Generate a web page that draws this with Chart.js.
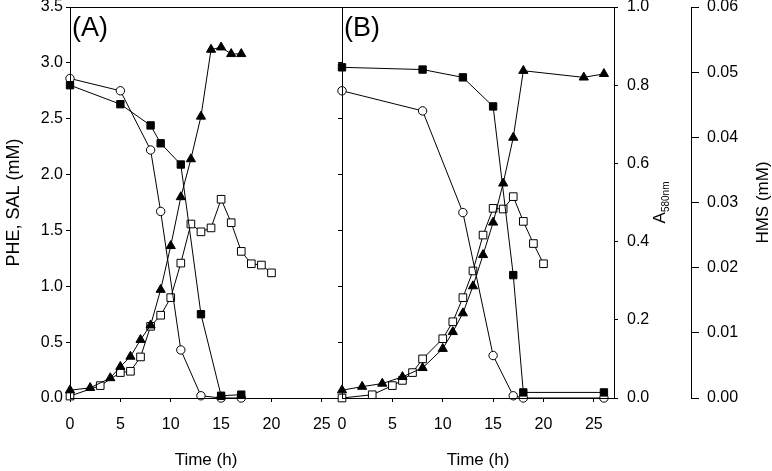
<!DOCTYPE html>
<html>
<head>
<meta charset="utf-8">
<script src="https://cdn.jsdelivr.net/npm/chart.js@4"></script>
<style>
  html, body { margin: 0; padding: 0; background: #fff; }
  #wrap { position: relative; width: 772px; height: 471px; overflow: hidden; }
  canvas { position: absolute; top: 0; }
  #chartA { left: 0; }
  #chartB { left: 330px; }
</style>
</head>
<body>
<div id="wrap">
  <canvas id="chartA" width="345" height="471"></canvas>
  <canvas id="chartB" width="442" height="471"></canvas>
</div>
<script>
// --- DATA ---
const timeTicks = [0, 5, 10, 15, 20, 25];
const concTicks = [0, 0.5, 1.0, 1.5, 2.0, 2.5, 3.0, 3.5];
const absTicks = [0, 0.2, 0.4, 0.6, 0.8, 1.0];
const hmsTicks = [0, 0.01, 0.02, 0.03, 0.04, 0.05, 0.06];

// panel A
const timeA_pheSal = [0, 5, 8, 9, 11, 13, 15, 17];
const pheA = [2.80, 2.63, 2.44, 2.28, 2.09, 0.75, 0.02, 0.03];
const salA = [2.86, 2.75, 2.22, 1.67, 0.43, 0.02, 0.0, 0.0];
const timeA_abs = [0, 2, 4, 5, 6, 7, 8, 9, 10, 11, 12, 13, 14, 15, 16, 17];
const absA = [0.020, 0.026, 0.051, 0.080, 0.106, 0.149, 0.186, 0.277, 0.389, 0.514, 0.611, 0.720, 0.891, 0.897, 0.880, 0.880];
const timeA_hms = [0, 3, 5, 6, 7, 8, 9, 10, 11, 12, 13, 14, 15, 16, 17, 18, 19, 20];
const hmsA = [0.0003, 0.0019, 0.0039, 0.0041, 0.0063, 0.0110, 0.0127, 0.0154, 0.0207, 0.0267, 0.0255, 0.0261, 0.0305, 0.0269, 0.0225, 0.0206, 0.0204, 0.0192];

// panel B
const timeB_pheSal = [0, 8, 12, 15, 17, 18, 26];
const pheB = [2.96, 2.94, 2.87, 2.61, 1.10, 0.05, 0.05];
const salB = [2.75, 2.57, 1.66, 0.38, 0.02, 0.0, 0.0];
const timeB_abs = [0, 2, 4, 6, 8, 10, 11, 12, 13, 14, 15, 16, 17, 18, 24, 26];
const absB = [0.020, 0.029, 0.037, 0.054, 0.077, 0.126, 0.169, 0.217, 0.286, 0.366, 0.449, 0.549, 0.666, 0.837, 0.820, 0.829];
const timeB_hms = [0, 3, 5, 6, 7, 8, 10, 11, 12, 13, 14, 15, 16, 17, 18, 19, 20];
const hmsB = [0.0, 0.0005, 0.0019, 0.0027, 0.0039, 0.0060, 0.0091, 0.0117, 0.0154, 0.0195, 0.0250, 0.0291, 0.0290, 0.0309, 0.0271, 0.0237, 0.0206];

// --- HELPERS ---
const FONT = "'Liberation Sans', Arial, sans-serif";
const pts = (xs, ys) => xs.map((x, i) => ({ x: x, y: ys[i] }));
const setTicks = list => s => { s.ticks = list.map(v => ({ value: v })); };

function series(data, axis, style, fill, radius) {
    return {
        data: data, yAxisID: axis, showLine: true, clip: false,
        borderColor: '#000', borderWidth: 1, tension: 0,
        pointStyle: style, pointRadius: radius, pointHoverRadius: radius,
        pointBackgroundColor: fill, pointBorderColor: '#000', pointBorderWidth: 1
    };
}

function panelDatasets(tPS, phe, sal, tAbs, abs, tHms, hms) {
    return [
        series(pts(tPS, phe), 'y', 'rect', '#000', 5.2),
        series(pts(tPS, sal), 'y', 'circle', '#fff', 4.2),
        series(pts(tAbs, abs), 'yA', 'triangle', '#000', 5.3),
        series(pts(tHms, hms), 'yH', 'rect', '#fff', 5.4)
    ];
}

function xScale() {
    return {
        type: 'linear', min: 0, max: 27, position: 'bottom',
        afterBuildTicks: setTicks(timeTicks),
        afterFit: s => { s.height = 73; s.paddingLeft = 0; s.paddingRight = 0; },
        ticks: { font: { family: FONT, size: 16 }, color: '#000', padding: 13, maxRotation: 0, callback: v => String(v) },
        grid: { drawOnChartArea: false, tickLength: 4, color: '#000' },
        border: { color: '#000', width: 1 },
        title: { display: true, text: 'Time (h)', font: { family: FONT, size: 17 }, color: '#000', padding: 0 }
    };
}

// chart-area frame + panel letters
const framePlugin = {
    id: 'frame',
    afterDraw(chart, args, opts) {
        const { ctx, chartArea: a } = chart;
        ctx.save();
        ctx.strokeStyle = '#000';
        ctx.lineWidth = 1;
        ctx.strokeRect(Math.round(a.left) + 0.5, Math.round(a.top) + 0.5, Math.round(a.right - a.left), Math.round(a.bottom - a.top));
        ctx.fillStyle = '#000';
        ctx.font = '27px ' + FONT;
        ctx.textBaseline = 'alphabetic';
        ctx.textAlign = 'left';
        ctx.fillText(opts.letter, a.left + 2, a.top + 29);
        ctx.restore();
    }
};

// rotated right-hand titles for panel B
const rightTitles = {
    id: 'rightTitles',
    afterDraw(chart) {
        const { ctx, chartArea: a, scales } = chart;
        const yc = (a.top + a.bottom) / 2;
        ctx.save();
        ctx.fillStyle = '#000';
        ctx.textBaseline = 'alphabetic';

        // A580nm
        ctx.save();
        ctx.translate(scales.yA.left + 51, yc);
        ctx.rotate(-Math.PI / 2);
        ctx.font = '17px ' + FONT;
        const wA = ctx.measureText('A').width;
        ctx.font = '10px ' + FONT;
        const wSub = ctx.measureText('580nm').width;
        const x0 = -(wA + wSub) / 2;
        ctx.font = '17px ' + FONT;
        ctx.textAlign = 'left';
        ctx.fillText('A', x0, 0);
        ctx.font = '10px ' + FONT;
        ctx.fillText('580nm', x0 + wA, 4);
        ctx.restore();

        // HMS (mM)
        ctx.save();
        ctx.translate(scales.yH.left + 77, yc);
        ctx.rotate(-Math.PI / 2);
        ctx.font = '17px ' + FONT;
        ctx.textAlign = 'center';
        ctx.fillText('HMS (mM)', 0, 0);
        ctx.restore();

        ctx.restore();
    }
};

const baseOptions = {
    responsive: false, animation: false, devicePixelRatio: 1,
    plugins: { legend: { display: false }, tooltip: { enabled: false } }
};

// --- PANEL A ---
new Chart(document.getElementById('chartA').getContext('2d'), {
    type: 'scatter',
    data: { datasets: panelDatasets(timeA_pheSal, pheA, salA, timeA_abs, absA, timeA_hms, hmsA) },
    options: {
        ...baseOptions,
        layout: { autoPadding: false, padding: { top: 7, right: 3, left: 0, bottom: 0 } },
        plugins: { ...baseOptions.plugins, frame: { letter: '(A)' } },
        scales: {
            x: xScale(),
            y: {
                type: 'linear', position: 'left', min: 0, max: 3.5,
                afterBuildTicks: setTicks(concTicks),
                afterFit: s => { s.width = 70; s.paddingTop = 0; s.paddingBottom = 0; },
                ticks: { font: { family: FONT, size: 16 }, color: '#000', padding: 3, callback: v => v.toFixed(1) },
                grid: { drawOnChartArea: false, tickLength: 4, color: '#000' },
                border: { color: '#000', width: 1 },
                title: { display: true, text: 'PHE, SAL (mM)', font: { family: FONT, size: 18 }, color: '#000', padding: { top: 3, bottom: 0 } }
            },
            yA: { type: 'linear', display: false, min: 0, max: 1 },
            yH: { type: 'linear', display: false, min: 0, max: 0.06 }
        }
    },
    plugins: [framePlugin]
});

// --- PANEL B ---
new Chart(document.getElementById('chartB').getContext('2d'), {
    type: 'scatter',
    data: { datasets: panelDatasets(timeB_pheSal, pheB, salB, timeB_abs, absB, timeB_hms, hmsB) },
    options: {
        ...baseOptions,
        layout: { autoPadding: false, padding: { top: 7, right: 0, left: 0, bottom: 0 } },
        plugins: { ...baseOptions.plugins, frame: { letter: '(B)' } },
        scales: {
            x: xScale(),
            y: {
                type: 'linear', position: 'left', min: 0, max: 3.5,
                afterBuildTicks: setTicks(concTicks),
                afterFit: s => { s.width = 12; s.paddingTop = 0; s.paddingBottom = 0; },
                ticks: { display: false },
                grid: { drawOnChartArea: false, tickLength: 4, color: '#000' },
                border: { color: '#000', width: 1 }
            },
            yA: {
                type: 'linear', position: 'right', weight: 0, min: 0, max: 1,
                afterBuildTicks: setTicks(absTicks),
                afterFit: s => { s.width = 77; s.paddingTop = 0; s.paddingBottom = 0; },
                ticks: { font: { family: FONT, size: 16 }, color: '#000', padding: 9, callback: v => v.toFixed(1) },
                grid: { drawOnChartArea: false, tickLength: 4, color: '#000' },
                border: { color: '#000', width: 1 }
            },
            yH: {
                type: 'linear', position: 'right', weight: 1, min: 0, max: 0.06,
                afterBuildTicks: setTicks(hmsTicks),
                afterFit: s => { s.width = 81; s.paddingTop = 0; s.paddingBottom = 0; },
                ticks: { font: { family: FONT, size: 16 }, color: '#000', padding: 8, callback: v => v.toFixed(2) },
                grid: { drawOnChartArea: false, tickLength: 8, color: '#000' },
                border: { color: '#000', width: 1 }
            }
        }
    },
    plugins: [framePlugin, rightTitles]
});
</script>
</body>
</html>
